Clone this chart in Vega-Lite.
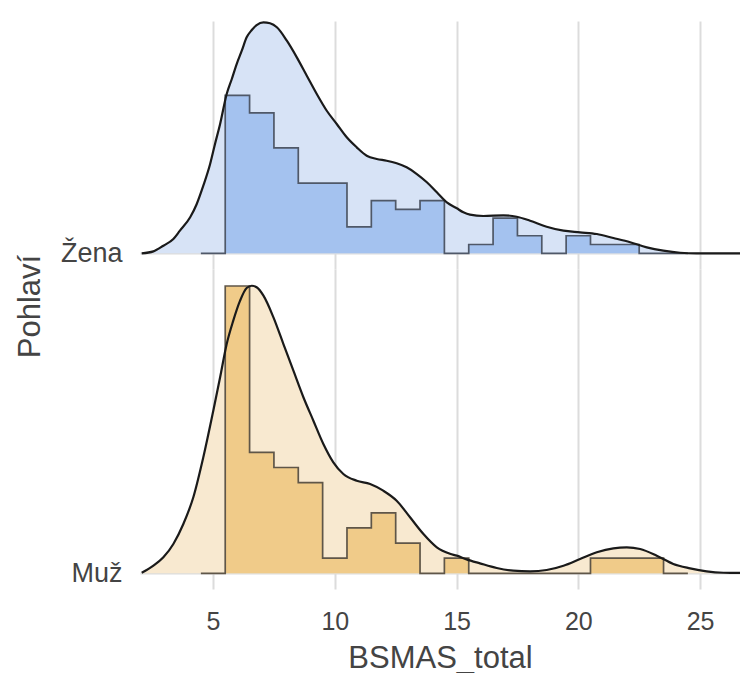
{
  "$schema": "https://vega.github.io/schema/vega-lite/v6.json",
  "padding": {"left": 13, "top": 17, "right": 0, "bottom": 0},
  "background": "white",
  "spacing": 0,
  "bounds": "flush",
  "datasets": {
    "dens": [
      {"g":"Žena","x":2.07,"y":0},{"g":"Žena","x":2.55,"y":0.0024},{"g":"Žena","x":2.96,"y":0.0093},{"g":"Žena","x":3.37,"y":0.0175},{"g":"Žena","x":3.64,"y":0.0277},{"g":"Žena","x":4.06,"y":0.0441},{"g":"Žena","x":4.33,"y":0.0604},{"g":"Žena","x":4.60,"y":0.0828},{"g":"Žena","x":4.88,"y":0.1094},{"g":"Žena","x":5.08,"y":0.1339},{"g":"Žena","x":5.29,"y":0.1584},{"g":"Žena","x":5.56,"y":0.1951},{"g":"Žena","x":5.77,"y":0.2135},{"g":"Žena","x":5.97,"y":0.2318},{"g":"Žena","x":6.18,"y":0.2481},{"g":"Žena","x":6.38,"y":0.2645},{"g":"Žena","x":6.59,"y":0.2735},{"g":"Žena","x":6.79,"y":0.2796},{"g":"Žena","x":7.07,"y":0.2829},{"g":"Žena","x":7.34,"y":0.2817},{"g":"Žena","x":7.62,"y":0.2768},{"g":"Žena","x":8.03,"y":0.2604},{"g":"Žena","x":8.44,"y":0.2400},{"g":"Žena","x":8.85,"y":0.2175},{"g":"Žena","x":9.26,"y":0.1951},{"g":"Žena","x":9.67,"y":0.1746},{"g":"Žena","x":10.08,"y":0.1584},{"g":"Žena","x":10.49,"y":0.1421},{"g":"Žena","x":10.90,"y":0.1298},{"g":"Žena","x":11.31,"y":0.1195},{"g":"Žena","x":11.72,"y":0.1155},{"g":"Žena","x":12.13,"y":0.1134},{"g":"Žena","x":12.54,"y":0.1102},{"g":"Žena","x":12.95,"y":0.1053},{"g":"Žena","x":13.37,"y":0.0971},{"g":"Žena","x":13.78,"y":0.0870},{"g":"Žena","x":14.19,"y":0.0747},{"g":"Žena","x":14.60,"y":0.0625},{"g":"Žena","x":15.01,"y":0.0551},{"g":"Žena","x":15.28,"y":0.0502},{"g":"Žena","x":15.55,"y":0.0473},{"g":"Žena","x":16.10,"y":0.0457},{"g":"Žena","x":16.92,"y":0.0465},{"g":"Žena","x":17.47,"y":0.0448},{"g":"Žena","x":18.02,"y":0.0399},{"g":"Žena","x":18.70,"y":0.0326},{"g":"Žena","x":19.39,"y":0.0277},{"g":"Žena","x":20.07,"y":0.0257},{"g":"Žena","x":20.76,"y":0.0236},{"g":"Žena","x":21.44,"y":0.0187},{"g":"Žena","x":22.13,"y":0.0135},{"g":"Žena","x":22.81,"y":0.0073},{"g":"Žena","x":23.49,"y":0.0032},{"g":"Žena","x":24.18,"y":0.0007},{"g":"Žena","x":24.86,"y":0},{"g":"Žena","x":26.64,"y":0},
      {"g":"Muž","x":2.07,"y":0.0006},{"g":"Muž","x":2.55,"y":0.0093},{"g":"Muž","x":2.96,"y":0.0196},{"g":"Muž","x":3.37,"y":0.0359},{"g":"Muž","x":3.78,"y":0.0604},{"g":"Muž","x":4.19,"y":0.0931},{"g":"Muž","x":4.60,"y":0.1421},{"g":"Muž","x":5.01,"y":0.1991},{"g":"Muž","x":5.29,"y":0.2400},{"g":"Muž","x":5.56,"y":0.2808},{"g":"Muž","x":5.83,"y":0.3094},{"g":"Muž","x":6.11,"y":0.3339},{"g":"Muž","x":6.38,"y":0.3494},{"g":"Muž","x":6.59,"y":0.3522},{"g":"Muž","x":6.79,"y":0.3503},{"g":"Muž","x":7.07,"y":0.3400},{"g":"Muž","x":7.48,"y":0.3135},{"g":"Muž","x":7.89,"y":0.2808},{"g":"Muž","x":8.30,"y":0.2481},{"g":"Muž","x":8.71,"y":0.2156},{"g":"Muž","x":9.12,"y":0.1869},{"g":"Muž","x":9.53,"y":0.1584},{"g":"Muž","x":9.94,"y":0.1359},{"g":"Muž","x":10.35,"y":0.1216},{"g":"Muž","x":10.90,"y":0.1134},{"g":"Muž","x":11.45,"y":0.1094},{"g":"Muž","x":11.99,"y":0.1012},{"g":"Muž","x":12.54,"y":0.0889},{"g":"Muž","x":13.09,"y":0.0686},{"g":"Muž","x":13.64,"y":0.0481},{"g":"Muž","x":14.19,"y":0.0318},{"g":"Muž","x":14.73,"y":0.0239},{"g":"Muž","x":15.01,"y":0.0216},{"g":"Muž","x":15.41,"y":0.0171},{"g":"Muž","x":15.96,"y":0.0122},{"g":"Muž","x":16.65,"y":0.0065},{"g":"Muž","x":17.33,"y":0.0032},{"g":"Muž","x":18.02,"y":0.0024},{"g":"Muž","x":18.70,"y":0.0040},{"g":"Muž","x":19.39,"y":0.0093},{"g":"Muž","x":20.07,"y":0.0175},{"g":"Muž","x":20.76,"y":0.0257},{"g":"Muž","x":21.44,"y":0.0306},{"g":"Muž","x":21.99,"y":0.0318},{"g":"Muž","x":22.54,"y":0.0298},{"g":"Muž","x":23.22,"y":0.0216},{"g":"Muž","x":23.90,"y":0.0114},{"g":"Muž","x":24.59,"y":0.0061},{"g":"Muž","x":25.27,"y":0.0024},{"g":"Muž","x":25.96,"y":0.0007},{"g":"Muž","x":26.64,"y":0.0004}
    ],
    "hist": [
      {"g":"Žena","x":4.5,"y":0},{"g":"Žena","x":5.5,"y":0.1935},{"g":"Žena","x":6.5,"y":0.1720},{"g":"Žena","x":7.5,"y":0.1290},{"g":"Žena","x":8.5,"y":0.0860},{"g":"Žena","x":9.5,"y":0.0860},{"g":"Žena","x":10.5,"y":0.0323},{"g":"Žena","x":11.5,"y":0.0645},{"g":"Žena","x":12.5,"y":0.0538},{"g":"Žena","x":13.5,"y":0.0645},{"g":"Žena","x":14.5,"y":0},{"g":"Žena","x":15.5,"y":0.0108},{"g":"Žena","x":16.5,"y":0.0430},{"g":"Žena","x":17.5,"y":0.0215},{"g":"Žena","x":18.5,"y":0},{"g":"Žena","x":19.5,"y":0.0215},{"g":"Žena","x":20.5,"y":0.0108},{"g":"Žena","x":21.5,"y":0.0108},{"g":"Žena","x":22.5,"y":0},{"g":"Žena","x":23.5,"y":0},{"g":"Žena","x":24.5,"y":0},
      {"g":"Muž","x":4.5,"y":0},{"g":"Muž","x":5.5,"y":0.3519},{"g":"Muž","x":6.5,"y":0.1481},{"g":"Muž","x":7.5,"y":0.1296},{"g":"Muž","x":8.5,"y":0.1111},{"g":"Muž","x":9.5,"y":0.0185},{"g":"Muž","x":10.5,"y":0.0556},{"g":"Muž","x":11.5,"y":0.0741},{"g":"Muž","x":12.5,"y":0.0370},{"g":"Muž","x":13.5,"y":0},{"g":"Muž","x":14.5,"y":0.0185},{"g":"Muž","x":15.5,"y":0},{"g":"Muž","x":16.5,"y":0},{"g":"Muž","x":17.5,"y":0},{"g":"Muž","x":18.5,"y":0},{"g":"Muž","x":19.5,"y":0},{"g":"Muž","x":20.5,"y":0.0185},{"g":"Muž","x":21.5,"y":0.0185},{"g":"Muž","x":22.5,"y":0.0185},{"g":"Muž","x":23.5,"y":0},{"g":"Muž","x":24.5,"y":0}
    ]
  },
  "vconcat": [
    {
      "width": 600,
      "height": 248,
      "encoding": {
        "x": {"field": "x", "type": "quantitative", "scale": {"domain": [2.0, 26.64], "nice": false, "zero": false},
              "axis": {"values": [5, 10, 15, 20, 25], "labels": false, "title": null, "grid": true}},
        "y": {"field": "y", "type": "quantitative", "scale": {"domain": [-0.01923, 0.28451], "nice": false, "zero": false},
              "axis": {"values": [0], "labelExpr": "'Žena'", "labelPadding": 18, "labelBaseline": "middle", "labelFontSize": 27, "title": null, "grid": true}}
      },
      "layer": [
        {"data": {"name": "dens"}, "transform": [{"filter": "datum.g === 'Žena'"}], "mark": {"type": "area", "interpolate": "monotone", "fill": "#d7e3f6", "opacity": 1}, "encoding": {}},
        {"data": {"name": "hist"}, "transform": [{"filter": "datum.g === 'Žena'"}], "mark": {"type": "area", "interpolate": "step-after", "fill": "#a4c2ef", "opacity": 1}, "encoding": {}},
        {"data": {"name": "hist"}, "transform": [{"filter": "datum.g === 'Žena'"}], "mark": {"type": "line", "interpolate": "step-after", "stroke": "#4f5868", "strokeWidth": 1.7}, "encoding": {}},
        {"data": {"name": "dens"}, "transform": [{"filter": "datum.g === 'Žena'"}], "mark": {"type": "line", "interpolate": "monotone", "stroke": "#1a1a1a", "strokeWidth": 2.2}, "encoding": {}}
      ]
    },
    {
      "width": 600,
      "height": 320,
      "encoding": {
        "x": {"field": "x", "type": "quantitative", "scale": {"domain": [2.0, 26.64], "nice": false, "zero": false},
              "axis": {"values": [5, 10, 15, 20, 25], "title": "BSMAS_total", "grid": true, "labelPadding": 20, "titlePadding": 9, "titleFontSize": 31}},
        "y": {"field": "y", "type": "quantitative", "scale": {"domain": [-0.01923, 0.37269], "nice": false, "zero": false},
              "axis": {"values": [0], "labelExpr": "'Muž'", "labelPadding": 18, "labelBaseline": "middle", "labelFontSize": 27, "title": "Pohlaví", "titleFontSize": 31, "titleX": -94, "titleY": 37, "grid": true}}
      },
      "layer": [
        {"data": {"name": "dens"}, "transform": [{"filter": "datum.g === 'Muž'"}], "mark": {"type": "area", "interpolate": "monotone", "fill": "#f8e9d0", "opacity": 1}, "encoding": {}},
        {"data": {"name": "hist"}, "transform": [{"filter": "datum.g === 'Muž'"}], "mark": {"type": "area", "interpolate": "step-after", "fill": "#f0cb89", "opacity": 1}, "encoding": {}},
        {"data": {"name": "hist"}, "transform": [{"filter": "datum.g === 'Muž'"}], "mark": {"type": "line", "interpolate": "step-after", "stroke": "#5f5648", "strokeWidth": 1.7}, "encoding": {}},
        {"data": {"name": "dens"}, "transform": [{"filter": "datum.g === 'Muž'"}], "mark": {"type": "line", "interpolate": "monotone", "stroke": "#1a1a1a", "strokeWidth": 2.2}, "encoding": {}}
      ]
    }
  ],
  "config": {
    "view": {"stroke": null},
    "font": "Liberation Sans",
    "axis": {
      "gridColor": "#dcdcdc",
      "gridWidth": 2,
      "domain": false,
      "ticks": false,
      "tickSize": 0,
      "labelFont": "Liberation Sans",
      "labelFontSize": 25,
      "labelColor": "#444444",
      "titleFont": "Liberation Sans",
      "titleFontSize": 32,
      "titleFontWeight": "normal",
      "titleColor": "#444444"
    }
  }
}
